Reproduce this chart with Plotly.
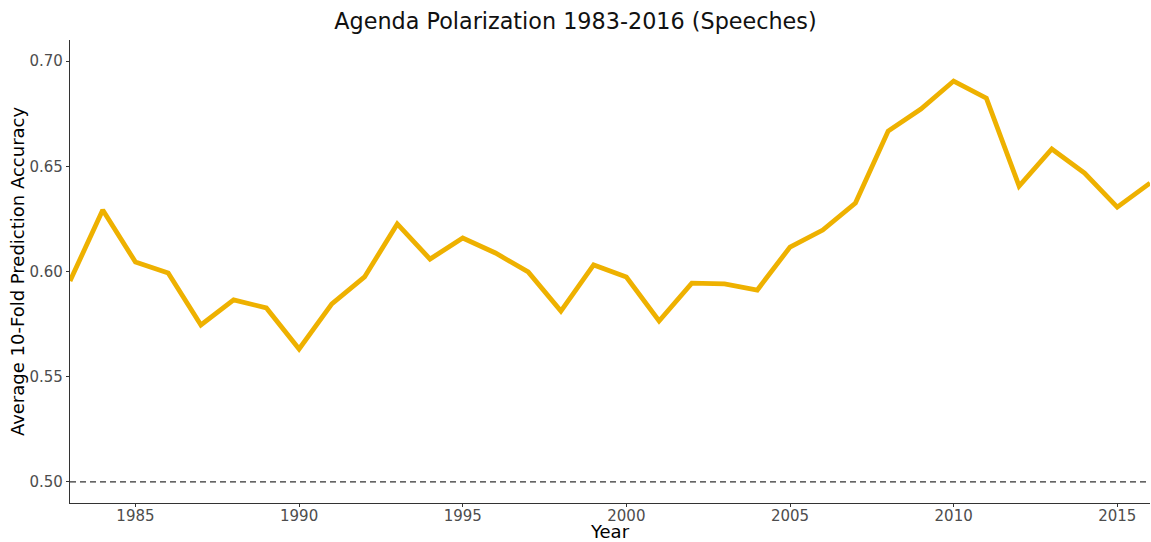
import plotly.graph_objects as go

years = list(range(1983, 2017))
accuracy = [0.5955, 0.6292, 0.6045, 0.5993, 0.5746, 0.5865, 0.5827, 0.5632, 0.5846, 0.5974,
            0.6226, 0.6059, 0.6159, 0.6088, 0.5998, 0.5812, 0.6031, 0.5974, 0.5765, 0.5945,
            0.5941, 0.5912, 0.6116, 0.6197, 0.6325, 0.6667, 0.6772, 0.6905, 0.6824, 0.6406,
            0.6582, 0.6468, 0.6306, 0.6420]
baseline = 0.5
x_ticks = [1985, 1990, 1995, 2000, 2005, 2010, 2015]
y_ticks = [0.50, 0.55, 0.60, 0.65, 0.70]

fig = go.Figure()
fig.add_trace(go.Scatter(x=years, y=accuracy, mode="lines",
                         line=dict(color="#EEB100", width=4.8), showlegend=False))
fig.add_hline(y=baseline, line=dict(color="#333333", width=1.3, dash="6px,4px"))

fig.update_layout(
    width=1151, height=542,
    margin=dict(l=70, r=1, t=40, b=39),
    paper_bgcolor="white", plot_bgcolor="white",
    font=dict(family="DejaVu Sans", color="#000000"),
    title=dict(text="Agenda Polarization 1983-2016 (Speeches)", x=0.5, xanchor="center",
               y=0.96, yanchor="middle", font=dict(size=22.3, color="#111111")),
)
fig.update_xaxes(range=[1983, 2016], tickvals=x_ticks, showgrid=False, zeroline=False,
                 showline=True, linecolor="#333333", linewidth=1.2,
                 ticks="outside", ticklen=3, tickcolor="#333333", ticklabelstandoff=-4,
                 tickfont=dict(size=15, color="#4d4d4d"),
                 title=dict(text="Year", font=dict(size=18), standoff=2))
fig.update_yaxes(range=[0.49, 0.71], tickvals=y_ticks, tickformat=".2f", showgrid=False,
                 zeroline=False, showline=True, linecolor="#333333", linewidth=1.2,
                 ticks="outside", ticklen=3, tickcolor="#333333",
                 tickfont=dict(size=15, color="#4d4d4d"),
                 title=dict(text="Average 10-Fold Prediction Accuracy", font=dict(size=18), standoff=0))

fig.write_html("out.html", config={"displayModeBar": False},
               post_script="document.body.style.margin='0';document.body.style.overflow='hidden';")
